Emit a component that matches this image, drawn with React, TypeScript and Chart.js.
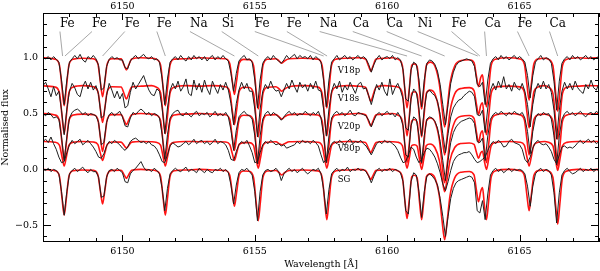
import React, { useEffect, useRef } from "react";
import { Chart, registerables } from "chart.js";

Chart.register(...registerables);

// ---------- axes ----------
const xMin = 6147;
const xMax = 6168;
const yMin = -0.65;
const yMax = 1.4;
const xTickValues = [6150, 6155, 6160, 6165];
const xTickLabels = ["6150", "6155", "6160", "6165"];
const yTickValues = [-0.5, 0, 0.5, 1.0];
const yTickLabels = ["\u22120.5", "0.0", "0.5", "1.0"];
const xMinorStep = 1;
const yMinorStep = 0.1;

// ---------- stars ----------
const starNames = ["V18p", "V18s", "V20p", "V80p", "SG"];
const starOffsets = [0, -0.25, -0.5, -0.75, -1.0];
const starLabelX = 6158.13;
const starLabelY = [0.862, 0.608, 0.358, 0.168, -0.11];

// ---------- line identifications ----------
const lineNames = ["Fe", "Fe", "Fe", "Fe", "Na", "Si", "Fe", "Fe", "Na", "Ca", "Ca", "Ni", "Fe", "Ca", "Fe", "Ca"];
const lineLabelWave = [6147.64, 6148.85, 6150.09, 6151.3, 6152.55, 6153.75, 6155.0, 6156.21, 6157.45, 6158.7, 6159.98, 6161.15, 6162.43, 6163.68, 6164.92, 6166.13];
const lineWave = [6147.74, 6147.83, 6149.25, 6151.62, 6154.23, 6155.13, 6157.6, 6157.73, 6160.75, 6161.3, 6162.17, 6163.42, 6163.5, 6163.75, 6165.36, 6166.44];
const lineLabelY = 1.275;
const leaderTopY = 1.234;
const leaderBottomY = 1.015;

// ---------- observed spectra (normalised flux) ----------
const obsWave = [
  6147.0, 6147.1, 6147.2, 6147.3, 6147.4, 6147.5, 6147.6, 6147.7, 6147.8, 6147.9,
  6148.0, 6148.1, 6148.2, 6148.3, 6148.4, 6148.5, 6148.6, 6148.7, 6148.8, 6148.9,
  6149.0, 6149.1, 6149.2, 6149.3, 6149.4, 6149.5, 6149.6, 6149.7, 6149.8, 6149.9,
  6150.0, 6150.1, 6150.2, 6150.3, 6150.4, 6150.5, 6150.6, 6150.7, 6150.8, 6150.9,
  6151.0, 6151.1, 6151.2, 6151.3, 6151.4, 6151.5, 6151.6, 6151.7, 6151.8, 6151.9,
  6152.0, 6152.1, 6152.2, 6152.3, 6152.4, 6152.5, 6152.6, 6152.7, 6152.8, 6152.9,
  6153.0, 6153.1, 6153.2, 6153.3, 6153.4, 6153.5, 6153.6, 6153.7, 6153.8, 6153.9,
  6154.0, 6154.1, 6154.2, 6154.3, 6154.4, 6154.5, 6154.6, 6154.7, 6154.8, 6154.9,
  6155.0, 6155.1, 6155.2, 6155.3, 6155.4, 6155.5, 6155.6, 6155.7, 6155.8, 6155.9,
  6156.0, 6156.1, 6156.2, 6156.3, 6156.4, 6156.5, 6156.6, 6156.7, 6156.8, 6156.9,
  6157.0, 6157.1, 6157.2, 6157.3, 6157.4, 6157.5, 6157.6, 6157.7, 6157.8, 6157.9,
  6158.0, 6158.1, 6158.2, 6158.3, 6158.4, 6158.5, 6158.6, 6158.7, 6158.8, 6158.9,
  6159.0, 6159.1, 6159.2, 6159.3, 6159.4, 6159.5, 6159.6, 6159.7, 6159.8, 6159.9,
  6160.0, 6160.1, 6160.2, 6160.3, 6160.4, 6160.5, 6160.6, 6160.7, 6160.8, 6160.9,
  6161.0, 6161.1, 6161.2, 6161.3, 6161.4, 6161.5, 6161.6, 6161.7, 6161.8, 6161.9,
  6162.0, 6162.1, 6162.2, 6162.3, 6162.4, 6162.5, 6162.6, 6162.7, 6162.8, 6162.9,
  6163.0, 6163.1, 6163.2, 6163.3, 6163.4, 6163.5, 6163.6, 6163.7, 6163.8, 6163.9,
  6164.0, 6164.1, 6164.2, 6164.3, 6164.4, 6164.5, 6164.6, 6164.7, 6164.8, 6164.9,
  6165.0, 6165.1, 6165.2, 6165.3, 6165.4, 6165.5, 6165.6, 6165.7, 6165.8, 6165.9,
  6166.0, 6166.1, 6166.2, 6166.3, 6166.4, 6166.5, 6166.6, 6166.7, 6166.8, 6166.9,
  6167.0, 6167.1, 6167.2, 6167.3, 6167.4, 6167.5, 6167.6, 6167.7, 6167.8, 6167.9, 6168.0,
];

const obsV18p = [
  1.00, 0.99, 1.01, 0.98, 1.01, 0.985, 0.96, 0.80, 0.58, 0.80,
  0.96, 0.99, 1.02, 0.99, 1.03, 0.98, 0.96, 1.01, 0.99, 1.02,
  0.99, 0.93, 0.71, 0.73, 0.92, 0.985, 1.01, 0.99, 1.00, 0.98,
  0.98, 0.91, 0.90, 0.97, 1.00, 1.02, 0.99, 1.01, 1.03, 1.00,
  0.99, 1.01, 0.98, 0.99, 0.96, 0.81, 0.58, 0.81, 0.96, 0.99,
  1.01, 0.98, 1.02, 0.99, 0.97, 1.01, 0.98, 1.02, 0.99, 1.01,
  0.98, 1.01, 0.97, 1.00, 1.02, 0.98, 1.01, 0.99, 1.02, 0.99,
  0.97, 0.86, 0.70, 0.86, 0.97, 1.00, 1.02, 0.98, 0.99, 0.96,
  0.80, 0.55, 0.80, 0.95, 0.99, 1.01, 0.98, 1.02, 0.99, 0.97,
  0.95, 0.98, 1.02, 0.99, 1.01, 1.03, 0.99, 1.02, 1.00, 1.01,
  0.99, 1.02, 0.98, 1.01, 0.99, 0.96, 0.80, 0.56, 0.80, 0.96,
  0.99, 1.02, 0.98, 1.00, 1.02, 0.99, 1.01, 0.98, 1.00, 1.02,
  0.99, 1.01, 0.99, 0.94, 0.87, 0.94, 0.99, 1.02, 0.98, 1.00,
  1.01, 0.99, 1.02, 0.98, 1.00, 0.98, 0.89, 0.63, 0.61, 0.89,
  0.96, 0.94, 0.80, 0.56, 0.80, 0.95, 0.98, 0.97, 0.94, 0.88,
  0.76, 0.58, 0.40, 0.58, 0.77, 0.87, 0.93, 0.96, 0.97, 0.98,
  0.99, 0.98, 0.97, 0.92, 0.76, 0.74, 0.78, 0.58, 0.80, 0.95,
  0.99, 1.01, 0.98, 1.02, 0.99, 1.01, 0.98, 1.00, 1.02, 0.99,
  1.01, 0.99, 0.96, 0.84, 0.64, 0.84, 0.96, 0.99, 1.02, 0.98,
  1.00, 0.99, 0.95, 0.79, 0.53, 0.79, 0.95, 0.99, 1.01, 0.98,
  1.02, 0.99, 1.01, 0.98, 1.00, 1.02, 0.99, 1.01, 0.98, 1.00, 1.01,
];

const obsV18s = [
  1.00, 1.03, 0.97, 0.90, 0.99, 0.91, 0.95, 0.78, 0.56, 0.79,
  0.95, 1.02, 0.98, 0.92, 0.90, 0.99, 1.04, 0.97, 1.03, 0.96,
  1.00, 0.92, 0.71, 0.73, 0.91, 1.02, 0.96, 0.89, 0.95, 0.88,
  0.93, 0.80, 0.82, 0.94, 1.03, 0.97, 1.01, 1.05, 1.09, 1.02,
  0.96, 0.92, 0.91, 0.97, 0.95, 0.80, 0.57, 0.80, 0.96, 1.02,
  0.97, 1.04, 0.95, 0.99, 1.06, 0.93, 0.91, 1.05, 0.96, 1.02,
  0.94, 1.05, 0.97, 0.92, 1.04, 0.98, 0.93, 1.01, 0.96, 1.03,
  0.96, 0.84, 0.65, 0.84, 0.96, 1.03, 0.97, 1.02, 0.95, 0.95,
  0.79, 0.54, 0.79, 0.95, 1.01, 0.97, 1.04, 0.98, 0.95, 0.96,
  0.90, 0.96, 1.02, 0.97, 1.05, 0.99, 0.94, 1.03, 0.98, 1.01,
  0.95, 1.02, 0.97, 1.04, 0.96, 0.95, 0.79, 0.55, 0.79, 0.95,
  1.02, 0.97, 1.04, 0.94, 1.00, 0.96, 1.03, 0.98, 0.93, 1.01,
  1.03, 0.97, 0.98, 0.91, 0.83, 0.92, 1.01, 0.96, 1.03, 0.95,
  0.91, 1.06, 0.92, 0.98, 1.02, 0.96, 0.88, 0.62, 0.60, 0.88,
  0.97, 0.94, 0.79, 0.55, 0.79, 0.94, 0.96, 0.93, 0.91, 0.86,
  0.74, 0.57, 0.40, 0.57, 0.72, 0.80, 0.84, 0.87, 0.88, 0.91,
  0.93, 0.95, 0.94, 0.90, 0.74, 0.73, 0.78, 0.58, 0.80, 0.96,
  1.02, 0.96, 1.04, 0.98, 1.08, 0.97, 1.01, 0.95, 1.03, 0.98,
  0.96, 1.02, 0.95, 0.83, 0.63, 0.83, 0.96, 1.02, 0.97, 1.04,
  0.97, 1.01, 0.94, 0.78, 0.52, 0.78, 0.95, 1.03, 0.97, 1.02,
  0.96, 1.04, 0.98, 0.95, 0.93, 1.01, 0.97, 1.05, 0.98, 0.96, 1.02,
];

const obsV20p = [
  1.00, 0.98, 1.01, 0.99, 0.96, 0.97, 0.95, 0.79, 0.58, 0.79,
  0.96, 1.01, 1.03, 1.04, 1.02, 0.99, 1.01, 0.98, 1.00, 0.99,
  0.98, 0.92, 0.72, 0.74, 0.92, 0.99, 1.01, 0.98, 1.00, 1.02,
  0.97, 0.89, 0.88, 0.96, 1.01, 0.99, 1.02, 1.04, 1.02, 0.99,
  1.01, 0.98, 1.00, 0.99, 0.96, 0.81, 0.59, 0.81, 0.96, 1.00,
  1.02, 1.03, 0.99, 0.98, 1.01, 0.99, 0.97, 1.00, 1.02, 0.98,
  1.00, 0.99, 1.01, 0.97, 0.99, 1.02, 0.98, 1.00, 0.98, 1.01,
  0.97, 0.85, 0.67, 0.85, 0.97, 1.00, 1.02, 0.99, 0.98, 0.95,
  0.80, 0.55, 0.80, 0.95, 1.00, 1.02, 0.98, 1.01, 0.99, 0.97,
  0.94, 0.97, 1.00, 1.02, 0.99, 1.01, 0.98, 1.00, 0.99, 1.02,
  1.00, 0.98, 1.01, 0.99, 1.02, 0.96, 0.80, 0.56, 0.80, 0.96,
  1.00, 1.02, 0.99, 1.01, 0.98, 1.00, 1.03, 0.99, 0.98, 1.01,
  1.00, 0.99, 0.98, 0.94, 0.88, 0.94, 0.99, 1.01, 0.98, 1.00,
  1.02, 0.99, 1.00, 0.97, 1.01, 0.97, 0.89, 0.63, 0.61, 0.89,
  0.97, 0.95, 0.80, 0.56, 0.80, 0.95, 0.97, 0.96, 0.93, 0.87,
  0.75, 0.58, 0.40, 0.58, 0.74, 0.83, 0.88, 0.91, 0.93, 0.94,
  0.95, 0.96, 0.95, 0.91, 0.75, 0.74, 0.78, 0.58, 0.80, 0.95,
  0.99, 1.01, 0.99, 1.02, 1.00, 0.98, 1.01, 0.99, 1.02, 1.00,
  0.99, 1.01, 0.96, 0.84, 0.64, 0.84, 0.96, 1.00, 0.98, 1.01,
  0.99, 1.00, 0.95, 0.80, 0.54, 0.80, 0.95, 1.00, 1.02, 0.99,
  1.01, 0.98, 1.00, 1.02, 0.99, 0.97, 1.00, 1.01, 0.99, 1.02, 1.00,
];

const obsV80p = [
  1.00, 1.02, 0.99, 1.04, 0.98, 0.93, 0.86, 0.81, 0.82, 0.90,
  0.97, 1.01, 0.98, 1.00, 1.02, 0.97, 0.99, 1.01, 0.98, 0.95,
  0.91, 0.86, 0.85, 0.89, 0.96, 1.00, 0.98, 1.01, 0.99, 0.97,
  0.94, 0.92, 0.95, 1.00, 1.02, 1.03, 1.01, 0.99, 1.00, 0.98,
  1.00, 0.97, 0.96, 0.93, 0.88, 0.82, 0.81, 0.88, 0.96, 0.99,
  0.97, 0.95, 0.96, 0.98, 1.00, 0.97, 0.99, 1.02, 0.98, 1.00,
  1.01, 0.98, 1.00, 0.97, 0.99, 1.02, 0.98, 1.00, 0.99, 0.97,
  0.92, 0.84, 0.83, 0.91, 0.97, 1.00, 0.98, 1.01, 0.96, 0.90,
  0.81, 0.82, 0.90, 0.97, 1.00, 0.98, 1.01, 0.99, 0.97, 0.98,
  0.96, 0.97, 0.94, 0.95, 0.96, 0.97, 1.00, 0.98, 1.01, 0.99,
  1.00, 0.98, 1.01, 0.99, 0.96, 0.88, 0.81, 0.84, 0.92, 0.98,
  1.00, 0.98, 1.01, 0.99, 0.97, 1.00, 1.02, 0.98, 1.00, 0.99,
  1.01, 0.98, 0.96, 0.92, 0.88, 0.93, 0.98, 1.00, 0.98, 1.01,
  0.99, 1.00, 0.98, 0.96, 0.92, 0.86, 0.81, 0.82, 0.88, 0.95,
  0.93, 0.86, 0.81, 0.84, 0.90, 0.94, 0.93, 0.90, 0.86, 0.80,
  0.72, 0.62, 0.56, 0.64, 0.74, 0.82, 0.86, 0.88, 0.89, 0.90,
  0.90, 0.91, 0.88, 0.84, 0.81, 0.82, 0.84, 0.86, 0.92, 0.97,
  1.00, 0.98, 1.01, 0.99, 0.95, 0.96, 1.00, 1.02, 0.99, 0.98,
  0.97, 0.93, 0.84, 0.81, 0.86, 0.94, 0.99, 1.01, 0.98, 0.97,
  0.98, 0.95, 0.91, 0.84, 0.80, 0.88, 0.95, 0.96, 0.94, 0.95,
  0.94, 0.96, 0.99, 1.01, 0.98, 1.00, 1.02, 0.99, 1.01, 0.98, 1.00,
];

const obsSG = [
  1.00, 0.99, 1.01, 0.98, 1.00, 0.99, 0.96, 0.80, 0.59, 0.80,
  0.96, 0.99, 1.01, 0.98, 1.00, 1.02, 0.99, 0.97, 1.00, 0.98,
  0.98, 0.93, 0.75, 0.76, 0.93, 0.99, 1.00, 0.98, 1.01, 0.99,
  0.97, 0.89, 0.88, 0.96, 0.99, 1.01, 1.04, 1.07, 1.02, 0.99,
  1.00, 0.98, 1.01, 0.99, 0.96, 0.83, 0.63, 0.83, 0.96, 0.99,
  1.01, 0.99, 0.98, 1.00, 1.02, 0.98, 1.00, 0.99, 0.97, 1.01,
  0.99, 0.97, 1.00, 0.98, 0.97, 1.00, 0.99, 1.01, 0.98, 1.00,
  0.97, 0.86, 0.69, 0.86, 0.97, 1.00, 0.99, 1.01, 0.98, 0.95,
  0.80, 0.54, 0.80, 0.95, 0.99, 1.00, 0.98, 0.99, 1.01, 0.98,
  0.90, 0.96, 0.99, 1.01, 0.98, 1.00, 0.97, 0.99, 1.01, 0.98,
  0.96, 0.98, 1.00, 0.99, 1.01, 0.96, 0.82, 0.60, 0.82, 0.96,
  0.99, 1.01, 0.98, 1.00, 0.99, 1.02, 0.98, 1.00, 0.99, 1.01,
  0.99, 1.00, 0.98, 0.94, 0.88, 0.94, 0.99, 1.01, 0.98, 1.00,
  0.99, 1.01, 0.98, 1.00, 0.99, 0.97, 0.89, 0.63, 0.60, 0.89,
  0.97, 0.95, 0.80, 0.57, 0.80, 0.94, 0.96, 0.94, 0.91, 0.86,
  0.74, 0.58, 0.40, 0.58, 0.74, 0.83, 0.88, 0.90, 0.91, 0.92,
  0.93, 0.94, 0.93, 0.88, 0.63, 0.61, 0.72, 0.55, 0.78, 0.95,
  0.99, 1.01, 0.98, 1.00, 0.97, 0.99, 1.01, 0.98, 1.00, 0.99,
  1.00, 0.99, 0.96, 0.85, 0.67, 0.85, 0.96, 0.99, 1.01, 0.98,
  1.00, 0.99, 0.95, 0.79, 0.52, 0.79, 0.95, 0.99, 1.01, 0.98,
  0.96, 0.97, 0.99, 1.01, 0.98, 1.00, 0.99, 1.01, 0.98, 1.00, 0.99,
];

// ---------- synthetic (model) spectra ----------
const modelWave = [
  6147.0,
  6147.45, 6147.62, 6147.72, 6147.8, 6147.88, 6147.98, 6148.15,
  6148.5,
  6148.9, 6149.07, 6149.17, 6149.25, 6149.33, 6149.43, 6149.6,
  6149.95, 6150.07, 6150.15, 6150.23, 6150.35,
  6150.7, 6151.1,
  6151.27, 6151.44, 6151.54, 6151.62, 6151.7, 6151.8, 6151.97,
  6152.4, 6152.9, 6153.4,
  6153.88, 6154.05, 6154.15, 6154.23, 6154.31, 6154.41, 6154.58,
  6154.78, 6154.95, 6155.05, 6155.13, 6155.21, 6155.31, 6155.48,
  6155.8, 6155.92, 6156.02, 6156.12, 6156.3,
  6156.8,
  6157.37, 6157.54, 6157.64, 6157.72, 6157.8, 6157.9, 6158.07,
  6158.5, 6158.9,
  6159.18, 6159.3, 6159.38, 6159.46, 6159.58,
  6159.9, 6160.2,
  6160.4, 6160.57, 6160.67, 6160.75, 6160.83, 6160.93,
  6161.03,
  6161.13, 6161.22, 6161.3, 6161.38, 6161.48,
  6161.62, 6161.8, 6161.97, 6162.07, 6162.17, 6162.27, 6162.37, 6162.55, 6162.8,
  6163.1, 6163.28, 6163.37, 6163.45, 6163.53, 6163.6, 6163.67, 6163.75, 6163.83, 6163.93, 6164.1,
  6164.6,
  6165.01, 6165.18, 6165.28, 6165.36, 6165.44, 6165.54, 6165.71,
  6165.95,
  6166.09, 6166.26, 6166.36, 6166.44, 6166.52, 6166.62, 6166.79,
  6167.2, 6167.6, 6168.0,
];

const modelV18p = [
  1.0,
  0.987, 0.936, 0.725, 0.57, 0.725, 0.936, 0.987,
  0.995,
  0.99, 0.948, 0.776, 0.65, 0.776, 0.948, 0.99,
  0.989, 0.93, 0.89, 0.93, 0.989,
  1.0, 0.995,
  0.987, 0.936, 0.725, 0.57, 0.725, 0.936, 0.987,
  0.99, 1.0, 0.995,
  0.99, 0.95, 0.789, 0.67, 0.789, 0.95, 0.985,
  0.983, 0.931, 0.706, 0.54, 0.706, 0.931, 0.986,
  0.99, 0.97, 0.95, 0.97, 0.99,
  0.995,
  0.987, 0.933, 0.712, 0.55, 0.712, 0.933, 0.987,
  0.995, 1.0,
  0.988, 0.923, 0.88, 0.923, 0.988,
  0.995, 1.0,
  0.987, 0.933, 0.712, 0.55, 0.712, 0.933,
  0.945,
  0.922, 0.706, 0.54, 0.706, 0.931,
  0.96, 0.926, 0.764, 0.554, 0.38, 0.554, 0.764, 0.926, 0.975,
  0.982, 0.956, 0.834, 0.74, 0.821, 0.846, 0.692, 0.56, 0.718, 0.934, 0.987,
  1.0,
  0.989, 0.943, 0.757, 0.62, 0.757, 0.943, 0.989,
  0.995,
  0.986, 0.928, 0.693, 0.52, 0.693, 0.928, 0.986,
  1.0, 0.995, 1.0,
];

const modelV18s = [
  0.998,
  0.987, 0.936, 0.725, 0.57, 0.725, 0.936, 0.987,
  1.0,
  0.99, 0.95, 0.789, 0.67, 0.789, 0.95, 0.99,
  0.988, 0.923, 0.88, 0.923, 0.988,
  0.995, 1.0,
  0.987, 0.936, 0.725, 0.57, 0.725, 0.936, 0.987,
  1.0, 0.995, 1.0,
  0.99, 0.948, 0.776, 0.65, 0.776, 0.948, 0.985,
  0.983, 0.931, 0.706, 0.54, 0.706, 0.931, 0.986,
  0.99, 0.97, 0.95, 0.97, 0.99,
  1.0,
  0.987, 0.933, 0.712, 0.55, 0.712, 0.933, 0.987,
  1.0, 0.995,
  0.986, 0.91, 0.86, 0.91, 0.986,
  1.0, 0.995,
  0.987, 0.933, 0.712, 0.55, 0.712, 0.933,
  0.945,
  0.922, 0.706, 0.54, 0.706, 0.931,
  0.96, 0.926, 0.764, 0.554, 0.38, 0.554, 0.764, 0.926, 0.975,
  0.982, 0.956, 0.834, 0.74, 0.821, 0.846, 0.692, 0.56, 0.718, 0.934, 0.987,
  0.995,
  0.989, 0.943, 0.757, 0.62, 0.757, 0.943, 0.989,
  1.0,
  0.986, 0.928, 0.693, 0.52, 0.693, 0.928, 0.986,
  0.995, 1.0, 0.998,
];

const modelV20p = [
  1.0,
  0.987, 0.937, 0.731, 0.58, 0.731, 0.937, 0.987,
  0.995,
  0.99, 0.949, 0.782, 0.66, 0.782, 0.949, 0.99,
  0.99, 0.936, 0.9, 0.936, 0.99,
  1.0, 0.995,
  0.987, 0.937, 0.731, 0.58, 0.731, 0.937, 0.987,
  0.995, 1.0, 0.995,
  0.99, 0.95, 0.789, 0.67, 0.789, 0.95, 0.985,
  0.983, 0.933, 0.712, 0.55, 0.712, 0.933, 0.987,
  0.99, 0.97, 0.95, 0.97, 0.99,
  0.995,
  0.987, 0.934, 0.718, 0.56, 0.718, 0.934, 0.987,
  0.995, 1.0,
  0.989, 0.93, 0.89, 0.93, 0.989,
  0.995, 1.0,
  0.987, 0.934, 0.718, 0.56, 0.718, 0.934,
  0.947,
  0.924, 0.712, 0.55, 0.712, 0.933,
  0.96, 0.926, 0.764, 0.554, 0.38, 0.554, 0.764, 0.926, 0.975,
  0.982, 0.956, 0.834, 0.74, 0.821, 0.846, 0.692, 0.56, 0.718, 0.934, 0.987,
  1.0,
  0.989, 0.945, 0.763, 0.63, 0.763, 0.945, 0.989,
  0.995,
  0.986, 0.93, 0.699, 0.53, 0.699, 0.93, 0.986,
  1.0, 0.995, 1.0,
];

const modelV80p = [
  1.0,
  0.993, 0.967, 0.859, 0.78, 0.859, 0.967, 0.993,
  1.0,
  0.995, 0.974, 0.891, 0.83, 0.891, 0.974, 0.995,
  0.994, 0.962, 0.94, 0.962, 0.994,
  1.0, 0.998,
  0.993, 0.967, 0.859, 0.78, 0.859, 0.967, 0.993,
  1.0, 0.998, 1.0,
  0.995, 0.974, 0.891, 0.83, 0.891, 0.974, 0.99,
  0.99, 0.964, 0.846, 0.76, 0.846, 0.964, 0.993,
  0.997, 0.98, 0.97, 0.98, 0.997,
  1.0,
  0.993, 0.964, 0.846, 0.76, 0.846, 0.964, 0.993,
  1.0, 0.998,
  0.99, 0.936, 0.9, 0.936, 0.99,
  1.0, 0.998,
  0.993, 0.964, 0.846, 0.76, 0.846, 0.964,
  0.971,
  0.958, 0.84, 0.75, 0.84, 0.963,
  0.977, 0.946, 0.829, 0.676, 0.55, 0.676, 0.829, 0.946, 0.982,
  0.986, 0.974, 0.904, 0.85, 0.897, 0.912, 0.825, 0.75, 0.84, 0.963, 0.992,
  1.0,
  0.993, 0.967, 0.859, 0.78, 0.859, 0.967, 0.993,
  1.0,
  0.992, 0.961, 0.834, 0.74, 0.834, 0.961, 0.992,
  1.0, 0.998, 1.0,
];

const modelSG = [
  1.0,
  0.988, 0.939, 0.738, 0.59, 0.738, 0.939, 0.988,
  0.995,
  0.991, 0.954, 0.802, 0.69, 0.802, 0.954, 0.991,
  0.992, 0.949, 0.92, 0.949, 0.992,
  1.0, 0.995,
  0.988, 0.939, 0.738, 0.59, 0.738, 0.939, 0.988,
  0.995, 1.0, 0.995,
  0.99, 0.95, 0.789, 0.67, 0.789, 0.95, 0.985,
  0.983, 0.931, 0.706, 0.54, 0.706, 0.931, 0.986,
  0.99, 0.97, 0.95, 0.97, 0.99,
  0.995,
  0.987, 0.933, 0.712, 0.55, 0.712, 0.933, 0.987,
  0.995, 1.0,
  0.991, 0.942, 0.91, 0.942, 0.991,
  0.995, 1.0,
  0.987, 0.934, 0.718, 0.56, 0.718, 0.934,
  0.947,
  0.924, 0.712, 0.55, 0.712, 0.933,
  0.96, 0.924, 0.761, 0.546, 0.37, 0.546, 0.761, 0.924, 0.975,
  0.981, 0.951, 0.814, 0.71, 0.801, 0.837, 0.683, 0.55, 0.712, 0.933, 0.987,
  1.0,
  0.989, 0.945, 0.763, 0.63, 0.763, 0.945, 0.989,
  0.995,
  0.985, 0.927, 0.686, 0.51, 0.686, 0.927, 0.985,
  1.0, 0.995, 1.0,
];

const obsSets = [obsV18p, obsV18s, obsV20p, obsV80p, obsSG];
const modelSets = [modelV18p, modelV18s, modelV20p, modelV80p, modelSG];

const FONT = '"DejaVu Serif", "Liberation Serif", serif';

function buildDatasets() {
  const ds: any[] = [];
  starNames.forEach((name, s) => {
    ds.push({
      label: name + " model",
      data: modelWave.map((w, k) => ({ x: w, y: modelSets[s][k] + starOffsets[s] })),
      borderColor: "#ff1414",
      borderWidth: 1.6,
      pointRadius: 0,
      cubicInterpolationMode: "monotone",
      order: 3,
    });
    ds.push({
      label: name + " observed",
      data: obsWave.map((w, k) => ({ x: w, y: obsSets[s][k] + starOffsets[s] })),
      borderColor: "#1e1e1e",
      borderWidth: 1,
      pointRadius: 0,
      tension: 0,
      order: 2,
    });
  });
  lineNames.forEach((n, i) => {
    ds.push({
      label: n + " leader " + i,
      data: [
        { x: lineLabelWave[i], y: leaderTopY },
        { x: lineWave[i], y: leaderBottomY },
      ],
      borderColor: "#909090",
      borderWidth: 0.8,
      pointRadius: 0,
      tension: 0,
      order: 1,
    });
  });
  return ds;
}

const decorPlugin = {
  id: "decor",
  afterDraw(chart: any) {
    const { ctx, chartArea } = chart;
    const { left, right, top, bottom } = chartArea;
    const xs = chart.scales.x;
    const ys = chart.scales.y;
    ctx.save();
    ctx.strokeStyle = "#000";
    ctx.lineWidth = 1;
    ctx.strokeRect(left + 0.5, top + 0.5, right - left - 1, bottom - top - 1);
    ctx.beginPath();
    const nx = Math.round((xMax - xMin) / xMinorStep);
    for (let k = 0; k <= nx; k++) {
      const v = xMin + k * xMinorStep;
      const px = Math.round(xs.getPixelForValue(v)) + 0.5;
      const len = v % 5 === 0 ? 7 : 4;
      ctx.moveTo(px, bottom);
      ctx.lineTo(px, bottom - len);
      ctx.moveTo(px, top);
      ctx.lineTo(px, top + len);
    }
    const k0 = Math.ceil(yMin / yMinorStep - 1e-6);
    const k1 = Math.floor(yMax / yMinorStep + 1e-6);
    for (let k = k0; k <= k1; k++) {
      const v = k * yMinorStep;
      const py = Math.round(ys.getPixelForValue(v)) + 0.5;
      const len = k % 5 === 0 ? 8 : 4;
      ctx.moveTo(left, py);
      ctx.lineTo(left + len, py);
      ctx.moveTo(right, py);
      ctx.lineTo(right - len, py);
    }
    ctx.stroke();

    ctx.fillStyle = "#000";
    ctx.textAlign = "left";
    ctx.textBaseline = "alphabetic";
    ctx.font = "12px " + FONT;
    lineNames.forEach((n, i) => {
      ctx.fillText(n, xs.getPixelForValue(lineLabelWave[i]), ys.getPixelForValue(lineLabelY));
    });
    ctx.font = "8.5px " + FONT;
    starNames.forEach((n, i) => {
      ctx.fillText(n, xs.getPixelForValue(starLabelX), ys.getPixelForValue(starLabelY[i]));
    });
    ctx.restore();
  },
};

export default function App() {
  const ref = useRef<HTMLCanvasElement>(null);
  useEffect(() => {
    if (!ref.current) return;
    const tickFont = { family: FONT, size: 9.5 };
    const titleFont = { family: FONT, size: 9.5 };
    const chart = new Chart(ref.current, {
      type: "line",
      data: { datasets: buildDatasets() },
      options: {
        animation: false,
        responsive: false,
        maintainAspectRatio: false,
        layout: { padding: { left: 0, right: 1, top: 0, bottom: 0 } },
        plugins: { legend: { display: false }, tooltip: { enabled: false } },
        scales: {
          x: {
            type: "linear",
            position: "bottom",
            min: xMin,
            max: xMax,
            grid: { display: false, drawTicks: false },
            border: { display: false },
            afterBuildTicks: (s: any) => {
              s.ticks = xTickValues.map((v) => ({ value: v }));
            },
            afterFit: (s: any) => {
              s.height = 29;
            },
            ticks: {
              padding: 4,
              font: tickFont,
              color: "#000",
              maxRotation: 0,
              autoSkip: false,
              callback: (v: any) => xTickLabels[xTickValues.indexOf(Number(v))] ?? "",
            },
            title: { display: true, text: "Wavelength [Å]", font: titleFont, color: "#000", padding: { top: 0, bottom: 1 } },
          },
          x2: {
            type: "linear",
            position: "top",
            min: xMin,
            max: xMax,
            grid: { display: false, drawTicks: false },
            border: { display: false },
            afterBuildTicks: (s: any) => {
              s.ticks = xTickValues.map((v) => ({ value: v }));
            },
            afterFit: (s: any) => {
              s.height = 13;
            },
            ticks: {
              padding: 1,
              font: tickFont,
              color: "#000",
              maxRotation: 0,
              autoSkip: false,
              callback: (v: any) => xTickLabels[xTickValues.indexOf(Number(v))] ?? "",
            },
          },
          y: {
            type: "linear",
            position: "left",
            min: yMin,
            max: yMax,
            grid: { display: false, drawTicks: false },
            border: { display: false },
            afterBuildTicks: (s: any) => {
              s.ticks = yTickValues.map((v) => ({ value: v }));
            },
            afterFit: (s: any) => {
              s.width = 43;
            },
            ticks: {
              padding: 5,
              font: tickFont,
              color: "#000",
              autoSkip: false,
              callback: (v: any) => yTickLabels[yTickValues.indexOf(Number(v))] ?? "",
            },
            title: { display: true, text: "Normalised flux", font: titleFont, color: "#000", padding: { top: 0, bottom: 0 } },
          },
        },
      } as any,
      plugins: [decorPlugin],
    });
    return () => chart.destroy();
  }, []);
  return (
    <div style={{ position: "fixed", left: 0, top: 0, width: 600, height: 271, background: "#fff" }}>
      <canvas ref={ref} width={600} height={271} style={{ display: "block", width: 600, height: 271 }} />
    </div>
  );
}
